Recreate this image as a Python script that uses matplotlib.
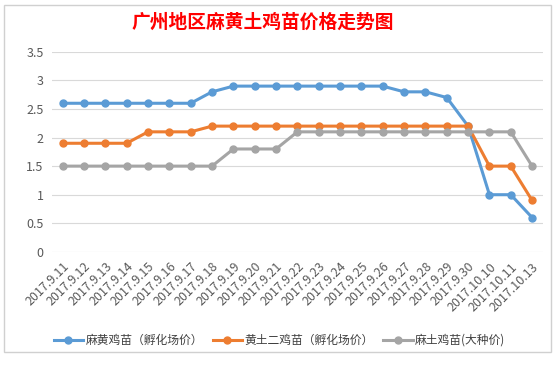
import matplotlib
matplotlib.use("Agg")
import matplotlib.pyplot as plt
from matplotlib.patches import Rectangle

plt.rcParams['font.family'] = ['Noto Sans CJK SC', 'DejaVu Sans']

dates = ['2017.9.11', '2017.9.12', '2017.9.13', '2017.9.14', '2017.9.15', '2017.9.16',
         '2017.9.17', '2017.9.18', '2017.9.19', '2017.9.20', '2017.9.21', '2017.9.22',
         '2017.9.23', '2017.9.24', '2017.9.25', '2017.9.26', '2017.9.27', '2017.9.28',
         '2017.9.29', '2017.9.30', '2017.10.10', '2017.10.11', '2017.10.13']

mahuang = [2.6, 2.6, 2.6, 2.6, 2.6, 2.6, 2.6, 2.8, 2.9, 2.9, 2.9, 2.9,
           2.9, 2.9, 2.9, 2.9, 2.8, 2.8, 2.7, 2.2, 1.0, 1.0, 0.6]
huangtu = [1.9, 1.9, 1.9, 1.9, 2.1, 2.1, 2.1, 2.2, 2.2, 2.2, 2.2, 2.2,
           2.2, 2.2, 2.2, 2.2, 2.2, 2.2, 2.2, 2.2, 1.5, 1.5, 0.9]
matu = [1.5, 1.5, 1.5, 1.5, 1.5, 1.5, 1.5, 1.5, 1.8, 1.8, 1.8, 2.1,
        2.1, 2.1, 2.1, 2.1, 2.1, 2.1, 2.1, 2.1, 2.1, 2.1, 1.5]

names = ['麻黄鸡苗（孵化场价）', '黄土二鸡苗（孵化场价）', '麻土鸡苗(大种价)']
colors = ['#5B9BD5', '#ED7D31', '#A5A5A5']

fig = plt.figure(figsize=(5.59, 3.65), dpi=100)
ax = fig.add_axes([0.093, 0.31, 0.878, 0.548])

x = list(range(len(dates)))
for vals, name, c in zip([mahuang, huangtu, matu], names, colors):
    ax.plot(x, vals, color=c, linewidth=2.2, marker='o', markersize=5, label=name)

ax.set_xlim(-0.5, len(dates) - 0.5)
ax.set_ylim(0, 3.5)
ax.set_yticks([0, 0.5, 1, 1.5, 2, 2.5, 3, 3.5])
ax.set_yticklabels(['0', '0.5', '1', '1.5', '2', '2.5', '3', '3.5'])
ax.set_xticks(x)
ax.set_xticklabels(dates, rotation=45, ha='right', rotation_mode='anchor')
ax.tick_params(axis='both', length=0, labelsize=9, labelcolor='#595959', pad=6)
ax.grid(axis='y', color='#D9D9D9', linewidth=0.8)
ax.set_axisbelow(True)
for s in ax.spines.values():
    s.set_visible(False)

fig.text(0.47, 0.94, '广州地区麻黄土鸡苗价格走势图', color='#FF0000', fontsize=13.5,
         fontweight='bold', ha='center', va='center')

fig.legend(loc='center', bbox_to_anchor=(0.5, 0.068), ncol=3, frameon=False,
           fontsize=8.5, handlelength=2.5, columnspacing=0.8, handletextpad=0.2,
           labelcolor='#404040')

fig.patches.append(Rectangle((0.008, 0.035), 0.978, 0.95, transform=fig.transFigure,
                             fill=False, edgecolor='#D0D0D0', linewidth=1))

fig.savefig('out.png', dpi=100)
